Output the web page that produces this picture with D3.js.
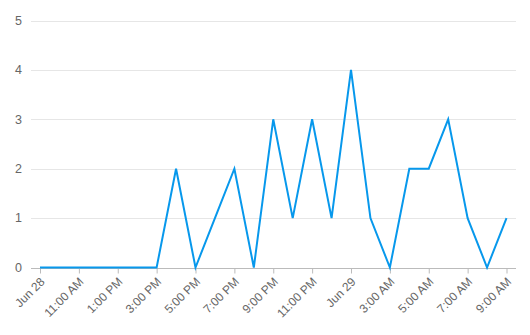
<!DOCTYPE html>
<html><head><meta charset="utf-8">
<script src="https://cdn.jsdelivr.net/npm/d3@7"></script>
<style>body{margin:0;background:#fff;}svg{display:block;font-family:"Liberation Sans",Arial,sans-serif;}</style>
</head><body><svg id="c" width="530" height="335"></svg>
<script>
const tickLabels = ["Jun 28","","11:00 AM","","1:00 PM","","3:00 PM","","5:00 PM","","7:00 PM","","9:00 PM","","11:00 PM","","Jun 29","","3:00 AM","","5:00 AM","","7:00 AM","","9:00 AM"];
const values = [0,0,0,0,0,0,0,2,0,1,2,0,3,1,3,1,4,1,0,2,2,3,1,0,1];
const yTicks = [0,1,2,3,4,5];

const svg = d3.select("#c");
const plotL = 31, plotR = 516, plotT = 20.5, plotB = 267.5;
const idx = values.map((d,i)=>i);
const x = d3.scalePoint().domain(idx).range([40, 506.5]);
const y = d3.scaleLinear().domain([0,5]).range([plotB, plotT]);

// gridlines
svg.append("g").selectAll("line").data(yTicks.filter(d=>d>0)).join("line")
  .attr("x1", plotL).attr("x2", plotR)
  .attr("y1", d=>Math.round(y(d))+0.5).attr("y2", d=>Math.round(y(d))+0.5)
  .attr("stroke", "#e6e6e6").attr("stroke-width", 1);

// y labels
svg.append("g").selectAll("text").data(yTicks).join("text")
  .attr("x", 22).attr("y", d=>y(d)).attr("dy","0.35em")
  .attr("text-anchor","end").attr("font-size", 12.5).attr("fill","#666")
  .text(d=>d);

// x axis
const xAxis = d3.axisBottom(x).tickValues(idx.filter(i=>i%2===0)).tickSize(5).tickFormat(i=>tickLabels[i]);
const gx = svg.append("g").attr("transform", `translate(0,${Math.round(plotB)+0.5})`).call(xAxis);
gx.select(".domain").attr("d", `M${plotL},0H${plotR}`).attr("stroke","#bbb");
gx.selectAll(".tick line").attr("stroke","#bbb");
gx.selectAll(".tick text")
  .attr("font-size", 12).attr("fill","#666").attr("font-family","Liberation Sans, Arial, sans-serif")
  .attr("text-anchor","end").attr("y", 0).attr("dy", 0)
  .attr("transform","translate(5,14) rotate(-45)");

// line
svg.append("path").datum(values)
  .attr("fill","none").attr("stroke","#0798ec").attr("stroke-width",2).attr("stroke-linejoin","miter")
  .attr("d", d3.line().x((d,i)=>x(i)).y(d=>y(d)));
</script></body></html>
